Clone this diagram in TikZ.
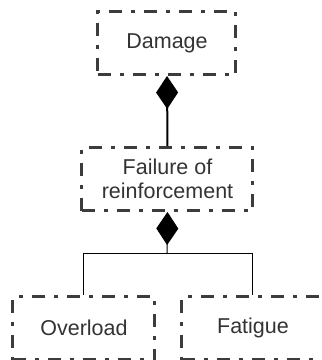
\documentclass[tikz,border=0pt]{standalone}
\usepackage{fontspec}
\setmainfont{Liberation Sans}
\usetikzlibrary{arrows.meta}
\definecolor{txt}{HTML}{333333}
\definecolor{edge}{HTML}{3C3C3C}
\begin{document}
\begin{tikzpicture}[x=1pt,y=-1pt,
  box/.style={draw=edge, line width=3pt, dash pattern=on 13pt off 9pt on 4pt off 9pt,
    rectangle, minimum width=#1, minimum height=63pt, inner sep=0pt,
    text=txt, font=\fontsize{21.5}{24}\selectfont, align=center},
  box/.default=138pt,
  comp/.style={black, {Diamond[length=33pt,width=22pt]}-},
]
\useasboundingbox (0,0) rectangle (322,360);
\node[box=138pt] (dmg) at (167,43) {Damage};
\node[box=171pt] (fail) at (167.5,179) {Failure of\\reinforcement};
\node[box=142pt] (over) at (84,328) {Overload};
\node[box=142pt] (fat) at (253,328) {Fatigue};
\coordinate (j) at (167,253);
\draw[comp, line width=2pt] (dmg.south) -- (fail.north);
\draw[comp, line width=1pt] (fail.south) -- (j);
\draw[line width=1pt, black] (j) -| (over.north);
\draw[line width=1pt, black] (j) -| (fat.north);
\end{tikzpicture}
\end{document}
